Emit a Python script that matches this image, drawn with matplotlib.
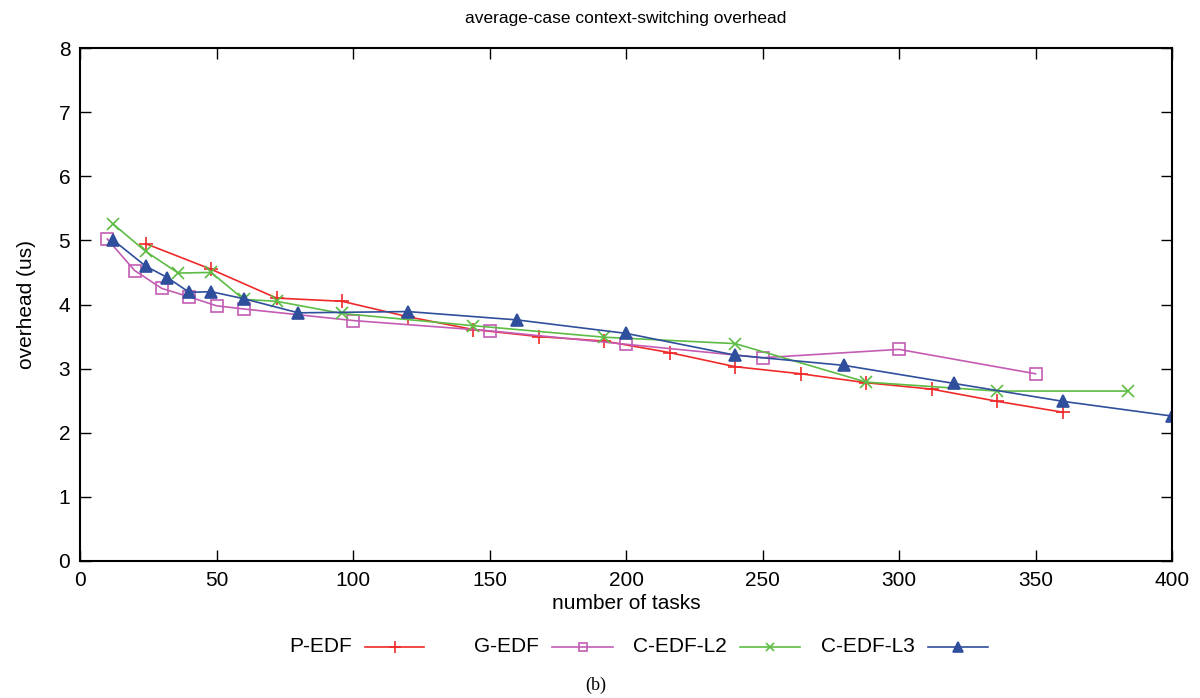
import matplotlib
matplotlib.use("Agg")
import matplotlib.pyplot as plt
from matplotlib.lines import Line2D

plt.rcParams['font.family'] = ['Liberation Sans', 'DejaVu Sans']

# P-EDF
pedf_x = [24, 48, 72, 96, 120, 144, 168, 192, 216, 240, 264, 288, 312, 336, 360]
pedf_y = [4.95, 4.55, 4.10, 4.05, 3.81, 3.61, 3.50, 3.43, 3.25, 3.03, 2.92, 2.78, 2.68, 2.49, 2.32]

# G-EDF
gedf_x = [10, 20, 30, 40, 50, 60, 100, 150, 200, 250, 300, 350]
gedf_y = [5.02, 4.53, 4.25, 4.12, 3.98, 3.93, 3.75, 3.59, 3.38, 3.17, 3.30, 2.92]

# C-EDF-L2
cl2_x = [12, 24, 36, 48, 60, 72, 96, 144, 192, 240, 288, 336, 384]
cl2_y = [5.26, 4.83, 4.49, 4.50, 4.08, 4.05, 3.86, 3.67, 3.49, 3.39, 2.79, 2.65, 2.65]

# C-EDF-L3
cl3_x = [12, 24, 32, 40, 48, 60, 80, 120, 160, 200, 240, 280, 320, 360, 400]
cl3_y = [5.01, 4.60, 4.42, 4.19, 4.20, 4.09, 3.87, 3.89, 3.76, 3.55, 3.21, 3.05, 2.77, 2.49, 2.26]

labels = ['P-EDF', 'G-EDF', 'C-EDF-L2', 'C-EDF-L3']
colors = ['#f02a2a', '#c45cb4', '#5cbc44', '#2f4e9c']
markers = ['+', 's', 'x', '^']

W, H = 1200, 698
fig = plt.figure(figsize=(12, 6.98), dpi=100)
ax = fig.add_axes([80 / W, 1 - 561 / H, (1172 - 80) / W, (561 - 48) / H])

series = [(pedf_x, pedf_y), (gedf_x, gedf_y), (cl2_x, cl2_y), (cl3_x, cl3_y)]
msizes = [10, 8, 9, 9]
for (xs, ys), lab, c, m, ms in zip(series, labels, colors, markers, msizes):
    ax.plot(xs, ys, color=c, lw=1.2, marker=m, ms=ms, mew=1.2,
            mfc='none' if m == 's' else c, label=lab)

ax.set_xlim(0, 400)
ax.set_ylim(0, 8)
ax.set_xticks(range(0, 401, 50))
ax.set_yticks(range(0, 9))
ax.tick_params(direction='in', length=8, width=1, labelsize=15, top=True, right=True, pad=7)
for s in ax.spines.values():
    s.set_linewidth(1.5)

ax.set_xlabel('number of tasks', fontsize=15, labelpad=3)
ax.set_ylabel('overhead (us)', fontsize=15, labelpad=16)
fig.text(626 / W, 1 - 18 / H, 'average-case context-switching overhead', ha='center', va='center',
         fontsize=12.5)

# gnuplot-style key: label right-aligned, then a sample line with one marker in the middle
ly = 1 - 647 / H
line_spans = [(365, 424), (552, 613), (740, 800), (928, 988)]
leg_ms = [8, 6, 6, 7]
for lab, c, m, (x0, x1), ms in zip(labels, colors, markers, line_spans, leg_ms):
    fig.text((x0 - 13) / W, ly, lab, ha='right', va='center', fontsize=15)
    fig.add_artist(Line2D([x0 / W, x1 / W], [ly, ly], transform=fig.transFigure,
                          color=c, lw=1.2))
    fig.add_artist(Line2D([(x0 + x1) / 2 / W], [ly], transform=fig.transFigure,
                          color=c, marker=m, ms=ms, mew=1.2,
                          mfc='none' if m == 's' else c, lw=0))

fig.text(596 / W, 1 - 685 / H, '(b)', ha='center', va='center', fontsize=13,
         family=['Liberation Serif', 'DejaVu Serif'])

fig.savefig('out.png', dpi=100)
